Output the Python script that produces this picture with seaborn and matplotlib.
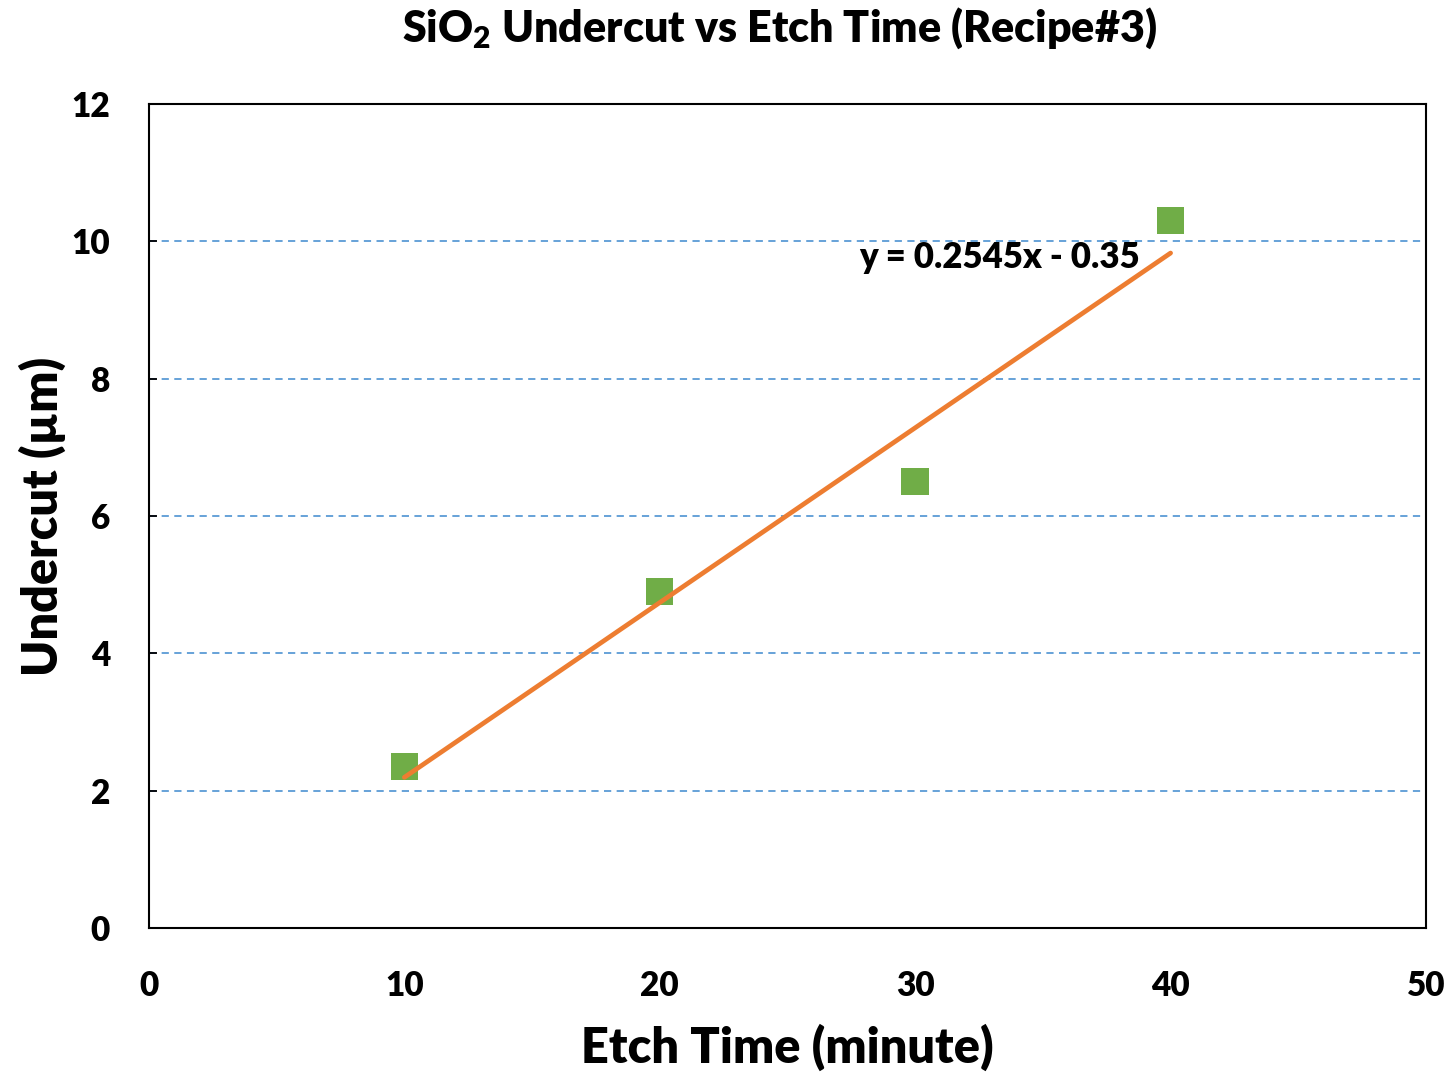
import numpy as np
import pandas as pd
import matplotlib
matplotlib.use("Agg")
import matplotlib.pyplot as plt
import seaborn as sns

# Data
etch_time = [10, 20, 30, 40]
undercut = [2.35, 4.9, 6.5, 10.3]
x_ticks = [0, 10, 20, 30, 40, 50]
y_ticks = [0, 2, 4, 6, 8, 10, 12]
title = "SiO$_2$ Undercut vs Etch Time (Recipe#3)"
x_label = "Etch Time (minute)"
y_label = "Undercut (µm)"

sns.set_theme(style="white")
plt.rcParams['font.family'] = ['Lato', 'DejaVu Sans']
plt.rcParams['font.weight'] = 'heavy'
plt.rcParams['text.color'] = 'black'
plt.rcParams['axes.labelcolor'] = 'black'
plt.rcParams['mathtext.fontset'] = 'custom'
plt.rcParams['mathtext.rm'] = 'Lato:heavy'
plt.rcParams['mathtext.it'] = 'Lato:heavy'
plt.rcParams['mathtext.bf'] = 'Lato:heavy'

W = "heavy"
df = pd.DataFrame({"t": etch_time, "u": undercut})

fig = plt.figure(figsize=(14.56, 10.78), dpi=100)
ax = fig.add_axes([0.1023, 0.1391, 0.8771, 0.7644])

for yv in y_ticks[1:-1]:
    ax.axhline(yv, color="#5B9BD5", linestyle=(0, (4, 3)), linewidth=1.3, zorder=0)

sns.scatterplot(data=df, x="t", y="u", ax=ax, marker="s", s=390,
                color="#70AD47", edgecolor="none", zorder=2, legend=False)
sns.regplot(data=df, x="t", y="u", ax=ax, scatter=False, ci=None, truncate=True,
            line_kws=dict(color="#ED7D31", linewidth=3.4, zorder=3, solid_capstyle="round"))

slope, intercept = np.polyfit(etch_time, undercut, 1)
sign = "-" if intercept < 0 else "+"
ax.text(27.8, 9.76, f"y = {slope:.4f}x {sign} {abs(intercept):.2f}",
        fontsize=25, fontweight=W, ha="left", va="center", color="black", zorder=4)

ax.set_xlim(0, 50)
ax.set_ylim(0, 12)
ax.set_xticks(x_ticks)
ax.set_yticks(y_ticks)
ax.tick_params(axis="both", labelsize=24, colors="black")
for lab in ax.get_xticklabels() + ax.get_yticklabels():
    lab.set_fontweight(W)
ax.tick_params(axis="y", direction="in", length=6, width=1.3, left=True, pad=28)
ax.tick_params(axis="x", length=0, pad=30)

ax.set_xlabel(x_label, fontsize=35, fontweight=W, labelpad=16)
ax.set_ylabel(y_label, fontsize=35, fontweight=W, labelpad=4)

for sp in ax.spines.values():
    sp.set_color("black")
    sp.set_linewidth(1.5)
    sp.set_visible(True)

fig.suptitle(title, fontsize=31, fontweight=W, y=0.995, va="top", x=0.535, color="black")

fig.savefig("out.png", dpi=100, facecolor="white")
